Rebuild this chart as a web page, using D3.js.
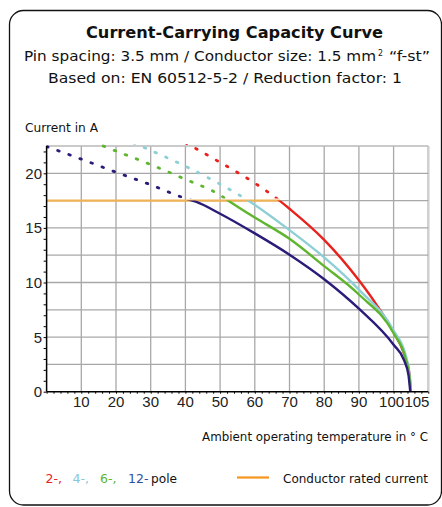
<!DOCTYPE html>
<html>
<head>
<meta charset="utf-8">
<script src="https://cdn.jsdelivr.net/npm/d3@7"></script>
<style>
body { margin: 0; background: #fff; }
svg { display: block; }
.hd { font-family: "DejaVu Sans", "Noto Sans", sans-serif; fill: #111; }
.tk { font-family: "Liberation Sans", Arial, sans-serif; font-size: 15px; fill: #222; }
</style>
</head>
<body>
<svg id="chart" width="442" height="507"></svg>
<script>
// data
var temp2 = [40, 50, 60, 67.3, 70, 80, 90, 95, 100, 103, 104.5, 105],
	cur2 = [22.8, 21.0, 19.1, 17.45, 16.75, 13.9, 10.2, 8.0, 5.45, 3.5, 1.8, 0];
var temp4 = [25, 30, 40, 50, 58.4, 70, 80, 90, 100, 103.6, 104.6, 105],
	cur4 = [22.8, 22.1, 20.65, 19.0, 17.45, 14.8, 12.3, 9.35, 5.6, 3.2, 1.5, 0];
var temp6 = [10, 18.3, 30, 40, 50, 52.6, 60, 70, 80, 90, 100, 103.5, 104.5, 104.9],
	cur6 = [23.3, 22.25, 20.8, 19.45, 18.0, 17.45, 15.95, 14.0, 11.5, 8.9, 5.35, 3.0, 1.5, 0];
var temp12 = [0, 10, 20, 30, 40, 43, 50, 60, 70, 80, 90, 100, 103, 104.3, 104.8],
	cur12 = [22.45, 21.3, 20.1, 18.95, 17.7, 17.4, 16.3, 14.5, 12.55, 10.3, 7.6, 4.3, 2.9, 1.5, 0];
var ratedCurrent = 17.5;

var poleLabels = ["2-,", "4-,", "6-,", "12-"];
var poleColors = ["#e8231f", "#8ecfd6", "#5fb52e", "#2c1c7a"];
var legendColors = ["#e8231f", "#86c8dc", "#5fb52e", "#2f4ea3"];
var xTicks = [10, 20, 30, 40, 50, 60, 70, 80, 90, 100, 105];
var yTicks = [0, 5, 10, 15, 20];

var series = [[temp2, cur2], [temp4, cur4], [temp6, cur6], [temp12, cur12]];

var svg = d3.select("#chart");

// frame
svg.append("rect")
	.attr("x", 9.5).attr("y", 10.5)
	.attr("width", 432).attr("height", 494.5)
	.attr("rx", 14).attr("ry", 14)
	.style("fill", "none").style("stroke", "#111").style("stroke-width", 1.3);

function label(txt, xx, yy, size, len, anchor){
	return svg.append("text").attr("class", "hd")
		.attr("x", xx).attr("y", yy)
		.attr("text-anchor", anchor || "start")
		.attr("textLength", len).attr("lengthAdjust", "spacingAndGlyphs")
		.style("font-size", size + "px")
		.text(txt);
}

// head
label("Current-Carrying Capacity Curve", 86, 38, 15, 297).style("font-weight", "bold");
label("Pin spacing: 3.5 mm / Conductor size: 1.5 mm", 24, 61, 14.5, 352);
label("2", 378, 56, 8.5, 5);
label("\u201Cf-st\u201D", 389, 61, 14.5, 41);
label("Based on: EN 60512-5-2 / Reduction factor: 1", 48, 83, 14.5, 354);

label("Current in A", 25, 132, 12, 73);

var x = d3.scaleLinear().domain([0, 110]).range([46.6, 428.3]);
var y = d3.scaleLinear().domain([0, 22.5]).range([391.7, 146]);

// grid
var g = svg.append("g");
g.selectAll(".vg").data(d3.range(10, 101, 10)).join("line")
	.attr("x1", d => x(d)).attr("x2", d => x(d))
	.attr("y1", y(22.5)).attr("y2", y(0))
	.style("stroke", "#a8a8a8").style("stroke-width", 1.3);
g.append("line")
	.attr("x1", x(110)).attr("x2", x(110))
	.attr("y1", y(22.5)).attr("y2", y(0))
	.style("stroke", "#cfcfcf").style("stroke-width", 2.5);
g.selectAll(".hg").data(d3.range(2.5, 22.6, 2.5)).join("line")
	.attr("x1", x(0)).attr("x2", x(110))
	.attr("y1", d => y(d)).attr("y2", d => y(d))
	.style("stroke", d => d == 22.5 ? "#b8b8b8" : "#a8a8a8").style("stroke-width", 1.3);

// clips above / below rated current
var defs = svg.append("defs");
defs.append("clipPath").attr("id", "above").append("rect")
	.attr("x", x(0)).attr("y", y(22.5) - 2)
	.attr("width", x(110) - x(0)).attr("height", y(ratedCurrent) - y(22.5));
defs.append("clipPath").attr("id", "below").append("rect")
	.attr("x", x(0)).attr("y", y(ratedCurrent))
	.attr("width", x(110) - x(0)).attr("height", y(0) - y(ratedCurrent) + 2);

var line = d3.line()
	.x(d => x(d[0])).y(d => y(d[1]))
	.curve(d3.curveMonotoneX);

// rated current line
g.append("line")
	.attr("x1", x(0)).attr("x2", x(67.3))
	.attr("y1", y(ratedCurrent)).attr("y2", y(ratedCurrent))
	.style("stroke", "#f0b257").style("stroke-width", 2.2);

series.forEach(function(s, k){
	var pts = s[0].map((t, i) => [t, s[1][i]]);
	g.append("path")
		.attr("d", line(pts))
		.attr("clip-path", "url(#above)")
		.style("fill", "none")
		.style("stroke", poleColors[k])
		.style("stroke-width", 2.8)
		.style("stroke-linecap", "round")
		.style("stroke-dasharray", "1.6,10.2");
	g.append("path")
		.attr("d", line(pts))
		.attr("clip-path", "url(#below)")
		.style("fill", "none")
		.style("stroke", poleColors[k])
		.style("stroke-width", 2.4);
});

// axes
var xAxis = svg.append("g")
	.attr("transform", "translate(0," + y(0) + ")")
	.call(d3.axisBottom(x).tickValues(d3.range(0, 111, 2)).tickSize(2).tickFormat(""));
xAxis.select(".domain").attr("d", "M" + x(0) + ",0H" + x(110)).style("stroke-width", 1.5);
xAxis.selectAll(".tick line").style("stroke-width", 1);

var yAxis = svg.append("g")
	.attr("transform", "translate(" + x(0) + ",0)")
	.call(d3.axisLeft(y).tickValues(d3.range(0, 23, 1)).tickSize(3).tickFormat(""));
yAxis.select(".domain").attr("d", "M0," + y(22.5) + "V" + y(0)).style("stroke-width", 1.5);

svg.selectAll(".xl").data(xTicks).join("text")
	.attr("class", "tk")
	.attr("x", d => x(d) + (d == 105 ? 6 : d == 100 ? -2 : 0))
	.attr("y", 407)
	.attr("text-anchor", "middle")
	.text(d => d);
svg.selectAll(".yl").data(yTicks).join("text")
	.attr("class", "tk")
	.attr("x", 42)
	.attr("y", d => y(d) + 5.5)
	.attr("text-anchor", "end")
	.text(d => d);

label("Ambient operating temperature in \u00B0 C", 202, 441, 12.5, 226);

// legend
var legX = [45.5, 72.5, 100, 128];
poleLabels.forEach(function(p, k){
	svg.append("text").attr("class", "hd")
		.attr("x", legX[k]).attr("y", 483)
		.style("font-size", "12.5px")
		.style("fill", legendColors[k])
		.text(p);
});
label("pole", 151, 483, 12.5, 26);

svg.append("line")
	.attr("x1", 237).attr("x2", 269).attr("y1", 477.5).attr("y2", 477.5)
	.style("stroke", "#f7941d").style("stroke-width", 2.2);
label("Conductor rated current", 283, 483, 12.5, 145);
</script>
</body>
</html>
